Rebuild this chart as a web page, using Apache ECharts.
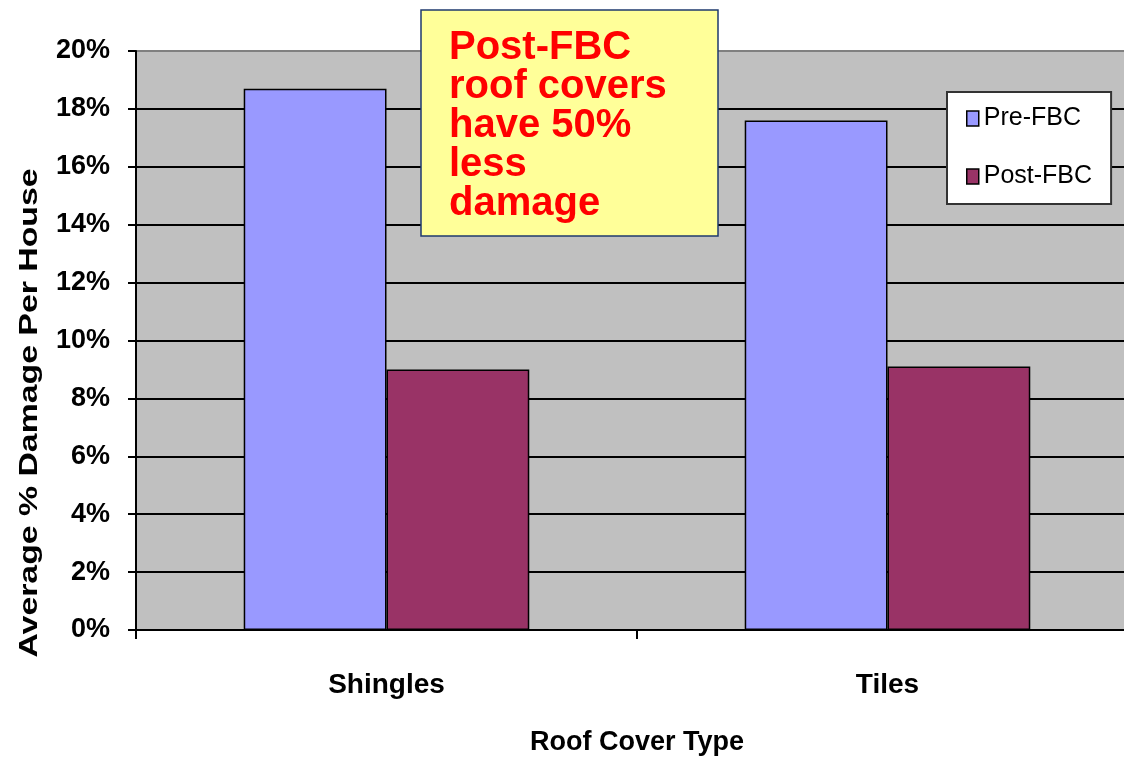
<!DOCTYPE html>
<html>
<head>
<meta charset="utf-8">
<title>Average % Damage Per House by Roof Cover Type</title>
<script src="https://cdn.jsdelivr.net/npm/echarts@6/dist/echarts.min.js"></script>
<style>
  html, body { margin: 0; padding: 0; background: #ffffff; overflow: hidden; }
  /* the plot runs slightly past the right edge of the page */
  #chart { width: 1140px; height: 758px; }
</style>
</head>
<body>
<div id="chart"></div>
<script>
// Roof cover categories and average damage per house (percent)
const categories = ['Shingles', 'Tiles'];
const seriesNames = ['Pre-FBC', 'Post-FBC'];
const preFBC = [18.7, 17.6];
const postFBC = [9.0, 9.1];

// Axis scale and titles
const yMin = 0;
const yMax = 20;
const yStep = 2;
const xTitle = 'Roof Cover Type';
const yTitle = 'Average % Damage Per House';

// Callout text
const noteLines = ['Post-FBC', 'roof covers', 'have 50%', 'less', 'damage'];

const FONT = "'Liberation Sans', Arial, Helvetica, sans-serif";

const chart = echarts.init(document.getElementById('chart'), null, { renderer: 'canvas' });

chart.setOption({
  animation: false,
  backgroundColor: '#ffffff',
  textStyle: { fontFamily: FONT },
  grid: {
    left: 136,
    top: 51,
    width: 1002,
    height: 579,
    show: true,
    backgroundColor: '#C0C0C0',
    borderColor: '#808080',
    borderWidth: 2,
    containLabel: false,
    outerBoundsMode: 'none'
  },
  legend: {
    orient: 'vertical',
    left: 947,
    top: 92,
    padding: [14, 19, 15, 19],
    itemGap: 33,
    itemWidth: 12,
    itemHeight: 15,
    backgroundColor: '#ffffff',
    borderColor: '#333333',
    borderWidth: 2,
    borderRadius: 0,
    icon: 'rect',
    data: seriesNames,
    textStyle: {
      fontFamily: FONT,
      fontSize: 25,
      lineHeight: 25,
      color: '#000000'
    },
    itemStyle: { borderColor: '#000000', borderWidth: 1.5 }
  },
  xAxis: {
    type: 'category',
    data: categories,
    name: xTitle,
    nameLocation: 'middle',
    nameGap: 99,
    nameTextStyle: {
      fontFamily: FONT,
      fontSize: 27,
      fontWeight: 'bold',
      color: '#000000'
    },
    axisLine: { show: true, lineStyle: { color: '#000000', width: 2 } },
    axisTick: { show: true, length: 9, interval: 0, lineStyle: { color: '#000000', width: 2 } },
    axisLabel: {
      margin: 41,
      fontFamily: FONT,
      fontSize: 28,
      fontWeight: 'bold',
      color: '#000000'
    },
    splitLine: { show: false }
  },
  yAxis: {
    type: 'value',
    min: yMin,
    max: yMax,
    interval: yStep,
    axisLine: { show: true, lineStyle: { color: '#000000', width: 2 } },
    axisTick: { show: true, length: 8, lineStyle: { color: '#000000', width: 2 } },
    axisLabel: {
      margin: 26,
      fontFamily: FONT,
      fontSize: 27,
      fontWeight: 'bold',
      color: '#000000',
      formatter: '{value}%'
    },
    splitLine: {
      show: true,
      showMinLine: false,
      showMaxLine: false,
      lineStyle: { color: '#000000', width: 2 }
    }
  },
  series: [
    {
      name: seriesNames[0],
      type: 'bar',
      data: preFBC,
      barGap: '0%',
      barCategoryGap: '43%',
      itemStyle: { color: '#9999FF', borderColor: '#000000', borderWidth: 1.5 }
    },
    {
      name: seriesNames[1],
      type: 'bar',
      data: postFBC,
      barGap: '0%',
      barCategoryGap: '43%',
      itemStyle: { color: '#993366', borderColor: '#000000', borderWidth: 1.5 }
    }
  ],
  graphic: [
    {
      type: 'text',
      z: 100,
      x: 30,
      y: 413,
      rotation: Math.PI / 2,
      scaleX: 1.3,
      style: {
        text: yTitle,
        font: 'bold 26px ' + FONT,
        fill: '#000000',
        textAlign: 'center',
        textVerticalAlign: 'middle'
      }
    },
    {
      type: 'rect',
      z: 100,
      shape: { x: 421, y: 10, width: 297, height: 226 },
      style: { fill: '#FFFF99', stroke: '#1F3A6E', lineWidth: 1.5 }
    },
    {
      type: 'text',
      z: 101,
      x: 449,
      y: 28,
      style: {
        text: noteLines.join('\n'),
        font: 'bold 40px ' + FONT,
        lineHeight: 39,
        fill: '#FF0000',
        textAlign: 'left',
        textVerticalAlign: 'top'
      }
    }
  ]
});
</script>
</body>
</html>
